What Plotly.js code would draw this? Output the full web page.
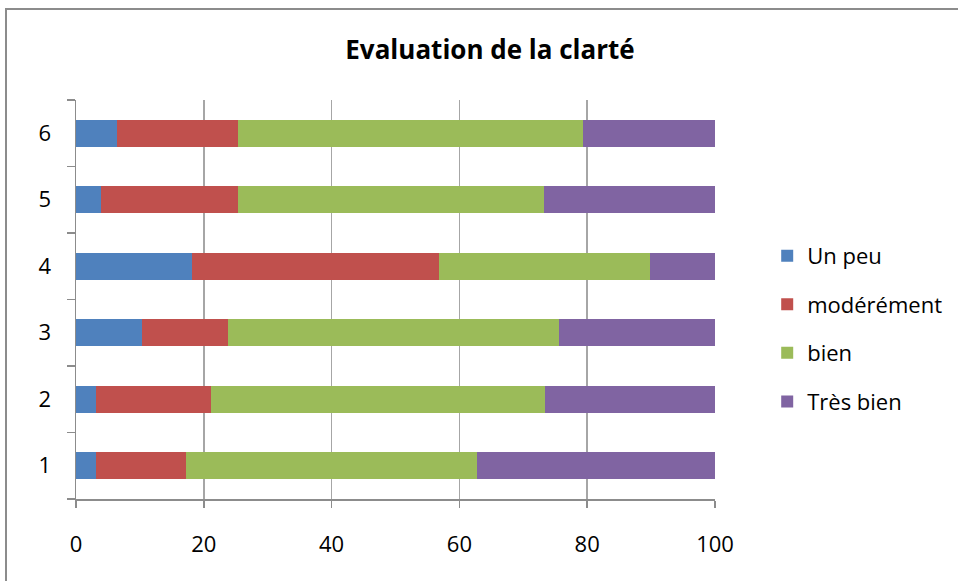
<!DOCTYPE html>
<html><head><meta charset="utf-8">
<script src="https://cdn.plot.ly/plotly-3.0.1.min.js"></script>
<style>
html,body{margin:0;padding:0;background:#fff;overflow:hidden;}
#wrap{position:relative;width:958px;height:581px;}
#chart{position:absolute;left:0;top:0;width:958px;height:581px;}
#frame{position:absolute;left:5px;top:8px;width:1000px;height:1000px;border:2px solid #8c8c8c;pointer-events:none;}
</style></head>
<body><div id="wrap"><div id="chart"></div><div id="frame"></div></div>
<script>
const categories = ["1","2","3","4","5","6"];
const seriesNames = ["Un peu","modérément","bien","Très bien"];
const unPeu      = [3.1, 3.1, 10.3, 18.2, 3.9, 6.35];
const moderement = [14.1, 18.0, 13.5, 38.6, 21.5, 19.05];
const bien       = [45.6, 52.3, 51.8, 33.0, 47.8, 54.0];
const tresBien   = [37.2, 26.6, 24.4, 10.2, 26.8, 20.6];
const xTicks = [0, 20, 40, 60, 80, 100];
const colors = ["#4F81BD", "#C0504D", "#9BBB59", "#8064A2"];

const values = [unPeu, moderement, bien, tresBien];
const traces = values.map((v, i) => ({
  type: "bar", orientation: "h", x: v, y: categories, name: seriesNames[i],
  legendgroup: "g" + i, marker: {color: colors[i], line: {width: 0}},
  hoverinfo: "x+name"
}));

const FONT = "'Open Sans', sans-serif";
const layout = {
  width: 958, height: 581,
  margin: {l: 76, r: 242, t: 100, b: 82},
  paper_bgcolor: "#fff", plot_bgcolor: "#fff",
  font: {family: FONT, color: "#000", size: 21},
  title: {text: "<b>Evaluation de la clarté</b>", font: {size: 26, family: FONT},
          x: 490/958, xanchor: "center", xref: "container", y: 1 - 50/581, yanchor: "middle", yref: "container"},
  barmode: "stack", bargap: 0.6,
  xaxis: {range: [0, 100], tickvals: xTicks, ticktext: xTicks.map(String), showgrid: true,
          gridcolor: "#a6a6a6", gridwidth: 1.5, showline: true, linecolor: "#8c8c8c", linewidth: 1.5,
          ticks: "outside", ticklen: 7, tickcolor: "#8c8c8c", tickwidth: 1.5, ticklabelstandoff: 18,
          zeroline: false, tickfont: {size: 22}},
  yaxis: {type: "category", categoryorder: "array", categoryarray: categories, tickson: "boundaries",
          showline: true, linecolor: "#8c8c8c", linewidth: 1.5, ticks: "outside", ticklen: 8,
          tickcolor: "#8c8c8c", tickwidth: 1.5, showgrid: false, ticklabelstandoff: 19, tickfont: {size: 22}},
  legend: {x: 1.08, xanchor: "left", y: 0.662, yanchor: "top", traceorder: "grouped",
           tracegroupgap: 17, font: {size: 22}, itemwidth: 30, bgcolor: "rgba(0,0,0,0)"},
  showlegend: true
};
Plotly.newPlot("chart", traces, layout, {displayModeBar: false, staticPlot: true});
</script></body></html>
